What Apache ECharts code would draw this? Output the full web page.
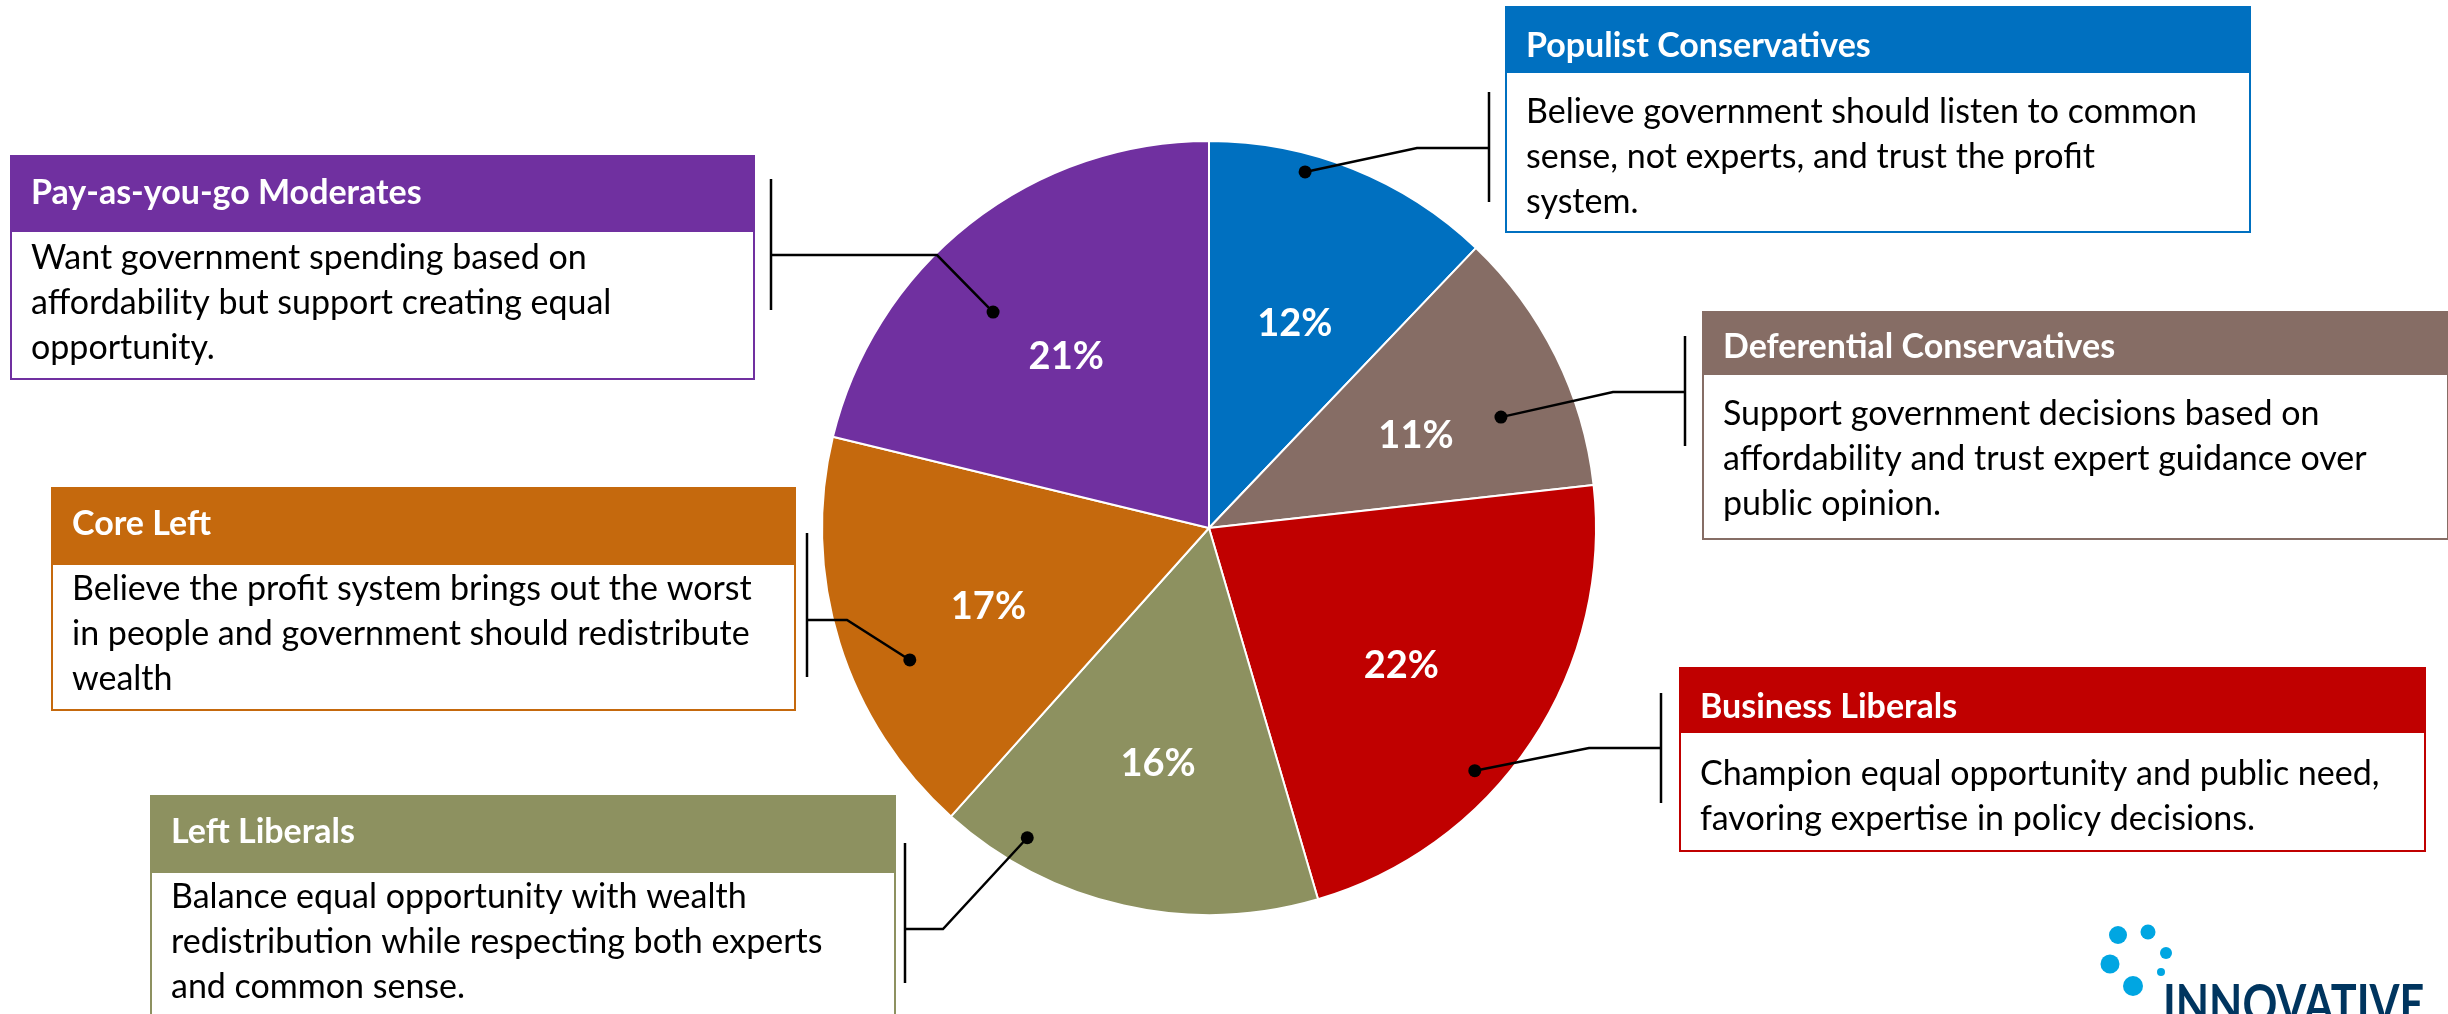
<!DOCTYPE html>
<html>
<head>
<meta charset="utf-8">
<title>Segments</title>
<script src="https://cdn.jsdelivr.net/npm/echarts@6/dist/echarts.min.js"></script>
<style>
  html, body { margin: 0; padding: 0; background: #fff; }
  #chart { width: 2448px; height: 1014px; }
</style>
</head>
<body>
<div id="chart"></div>
<script>
// data
var segments = [
  'Populist Conservatives',
  'Deferential Conservatives',
  'Business Liberals',
  'Left Liberals',
  'Core Left',
  'Pay-as-you-go Moderates'
]
var shares = [12, 11, 22, 16, 17, 21]
var descriptions = [
  'Believe government should listen to common\nsense, not experts, and trust the profit\nsystem.',
  'Support government decisions based on\naffordability and trust expert guidance over\npublic opinion.',
  'Champion equal opportunity and public need,\nfavoring expertise in policy decisions.',
  'Balance equal opportunity with wealth\nredistribution while respecting both experts\nand common sense.',
  'Believe the profit system brings out the worst\nin people and government should redistribute\nwealth',
  'Want government spending based on\naffordability but support creating equal\nopportunity.'
]

// styles / layout
var palette = ['#0070C0', '#866D65', '#C00000', '#8D9160', '#C5690D', '#7030A0']
var FONT = 'Lato, "Noto Sans", sans-serif'
var PIE = { cx: 1209, cy: 528, r: 387 }

// callout boxes: box rect, header height, text offsets, pointer dot (angle from 12 o'clock, radius fraction), elbow, bracket
var callouts = [
  { x: 1506, y: 7, w: 744, h: 225, head: 66, headY: 39, bodyY: 83, dot: [15.1, 0.953], elbow: [1417, 148], bx: 1489, by: [92, 202], hy: 148 },
  { x: 1703, y: 312, w: 745, h: 227, head: 63, headY: 35, bodyY: 80, dot: [69.2, 0.807], elbow: [1613, 392], bx: 1685, by: [336, 446], hy: 392 },
  { x: 1680, y: 668, w: 745, h: 183, head: 65, headY: 39, bodyY: 84, dot: [132.4, 0.93], elbow: [1589, 748], bx: 1661, by: [693, 803], hy: 748 },
  { x: 151, y: 796, w: 744, h: 240, head: 77, headY: 36, bodyY: 79, dot: [210.4, 0.928], elbow: [943, 929], bx: 905, by: [843, 983], hy: 929 },
  { x: 52, y: 488, w: 743, h: 222, head: 77, headY: 36, bodyY: 79, dot: [246.2, 0.845], elbow: [847, 620], bx: 807, by: [533, 677], hy: 620 },
  { x: 11, y: 156, w: 743, h: 223, head: 76, headY: 37, bodyY: 80, dot: [315, 0.789], elbow: [937, 255], bx: 771, by: [179, 310], hy: 255 }
]

function polar(angle, rf) {
  var a = angle * Math.PI / 180
  return [PIE.cx + PIE.r * rf * Math.sin(a), PIE.cy - PIE.r * rf * Math.cos(a)]
}

var graphics = []
callouts.forEach(function(c, i) {
  var col = palette[i]
  // box
  graphics.push({ type: 'rect', z: 10, shape: { x: c.x, y: c.y, width: c.w, height: c.h },
    style: { fill: '#fff', stroke: col, lineWidth: 2 } })
  graphics.push({ type: 'rect', z: 11, shape: { x: c.x, y: c.y, width: c.w, height: c.head },
    style: { fill: col } })
  graphics.push({ type: 'text', z: 12, x: c.x + 20, y: c.y + c.headY,
    style: { text: segments[i], fill: '#fff', font: 'bold 34px ' + FONT, align: 'left', verticalAlign: 'middle' } })
  graphics.push({ type: 'text', z: 12, x: c.x + 20, y: c.y + c.bodyY,
    style: { text: descriptions[i], fill: '#000', font: '34px ' + FONT, lineHeight: 45, align: 'left', verticalAlign: 'top' } })
  // pointer
  var p = polar(c.dot[0], c.dot[1])
  graphics.push({ type: 'polyline', z: 20, shape: { points: [p, c.elbow, [c.bx, c.hy]] },
    style: { stroke: '#000', lineWidth: 2.5, fill: null } })
  graphics.push({ type: 'line', z: 20, shape: { x1: c.bx, y1: c.by[0], x2: c.bx, y2: c.by[1] },
    style: { stroke: '#000', lineWidth: 2.5 } })
  graphics.push({ type: 'circle', z: 21, shape: { cx: p[0], cy: p[1], r: 6.5 }, style: { fill: '#000' } })
})

// logo
var logoDots = [[2118, 935, 9], [2148, 932, 7.5], [2110, 964, 9.5], [2166, 953, 6], [2161, 972, 4], [2133, 986, 10]]
logoDots.forEach(function(d) {
  graphics.push({ type: 'circle', z: 5, shape: { cx: d[0], cy: d[1], r: d[2] }, style: { fill: '#00A6E2' } })
})
graphics.push({ type: 'text', z: 5, x: 2163, y: 1006, scaleX: 0.8,
  style: { text: 'INNOVATIVE', fill: '#00355F', font: 'bold 54px ' + FONT, align: 'left', verticalAlign: 'middle' } })

var chart = echarts.init(document.getElementById('chart'), null, { renderer: 'canvas' })
var pieData = segments.map(function(name, i) {
  return { name: name, value: shares[i], itemStyle: { color: palette[i] } }
})

chart.setOption({
  animation: false,
  backgroundColor: '#fff',
  series: [
    {
      type: 'pie',
      center: [PIE.cx, PIE.cy],
      radius: [0, PIE.r],
      startAngle: 90,
      clockwise: true,
      silent: true,
      data: pieData,
      itemStyle: { borderColor: '#fff', borderWidth: 2 },
      label: { show: false },
      labelLine: { show: false }
    },
    {
      // carries the percent labels a bit further out than the default inside position
      type: 'pie',
      center: [PIE.cx, PIE.cy],
      radius: [69, PIE.r],
      startAngle: 90,
      clockwise: true,
      silent: true,
      z: 3,
      data: segments.map(function(name, i) {
        return { name: name, value: shares[i] }
      }),
      itemStyle: { color: 'rgba(0,0,0,0)', borderWidth: 0 },
      label: {
        show: true,
        position: 'inside',
        formatter: '{c}%',
        color: '#fff',
        fontFamily: FONT,
        fontWeight: 'bold',
        fontSize: 38
      },
      labelLayout: function() {
        return { dy: 10 }
      },
      labelLine: { show: false }
    }
  ],
  graphic: graphics
})
</script>
</body>
</html>
